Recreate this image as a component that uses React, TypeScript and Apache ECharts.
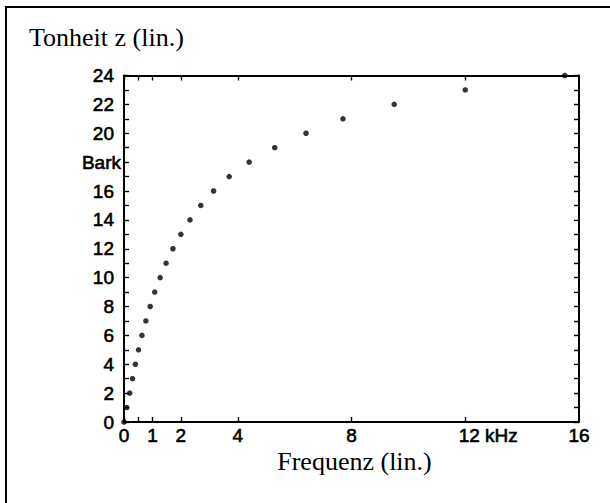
import React, { useEffect, useRef } from "react";
import * as echarts from "echarts";

// Bark scale: critical-band edges (frequency in kHz vs. Tonheit z in Bark)
const freqKHz = [0, 0.1, 0.2, 0.3, 0.4, 0.51, 0.63, 0.77, 0.92, 1.08, 1.27, 1.48, 1.72, 2.0, 2.32, 2.7, 3.15, 3.7, 4.4, 5.3, 6.4, 7.7, 9.5, 12.0, 15.5];
const barkZ = [0, 1, 2, 3, 4, 5, 6, 7, 8, 9, 10, 11, 12, 13, 14, 15, 16, 17, 18, 19, 20, 21, 22, 23, 24];

const xLabelValues = [0, 1, 2, 4, 8, 12, 16];
const xTickValues = [0, 0.5, 1, 2, 4, 8, 12];
const yLabelValues = [0, 2, 4, 6, 8, 10, 12, 14, 16, 18, 20, 22, 24];
const yTickValues = [0, 1, 2, 3, 4, 5, 6, 7, 8, 9, 10, 11, 12, 13, 14, 15, 16, 17, 18, 19, 20, 21, 22, 23, 24];

const titleText = "Tonheit z (lin.)";
const xNameText = "Frequenz (lin.)";

export default function App() {
  const ref = useRef<HTMLDivElement>(null);
  useEffect(() => {
    if (!ref.current) return;
    const chart = echarts.init(ref.current, null, { renderer: "svg" });
    const lineStyle = { color: "#000", width: 2 };
    const tickStyle = { color: "#000", width: 1.4 };
    const labelFont = "'Liberation Sans', Arial, sans-serif";
    const lbl = {
      fontFamily: labelFont,
      fontSize: 19,
      fontWeight: "normal",
      color: "#000",
      textBorderColor: "#000",
      textBorderWidth: 0.6,
    };
    chart.setOption({
      animation: false,
      backgroundColor: "#fff",
      grid: { left: 124, right: 31, top: 75.5, bottom: 81, containLabel: false },
      xAxis: [
        {
          type: "value",
          position: "bottom",
          min: 0,
          max: 16,
          axisLine: { show: true, onZero: false, lineStyle },
          axisTick: { show: true, inside: true, length: 5, lineStyle: tickStyle, customValues: xTickValues },
          splitLine: { show: false },
          axisLabel: {
            show: true,
            margin: 4,
            customValues: xLabelValues,
            formatter: (v: number) => (v === 12 ? "{k|12 kHz}" : "{n|" + v + "}"),
            rich: {
              n: { ...lbl },
              k: { ...lbl, padding: [0, 0, 0, 46] },
            },
          },
        },
        {
          type: "value",
          position: "top",
          min: 0,
          max: 16,
          axisLine: { show: true, onZero: false, lineStyle },
          axisTick: { show: true, inside: true, length: 5, lineStyle: tickStyle, customValues: xTickValues },
          splitLine: { show: false },
          axisLabel: { show: false },
        },
      ],
      yAxis: [
        {
          type: "value",
          position: "left",
          min: 0,
          max: 24,
          axisLine: { show: true, onZero: false, lineStyle },
          axisTick: { show: true, inside: true, length: 5, lineStyle: tickStyle, customValues: yTickValues },
          splitLine: { show: false },
          axisLabel: {
            show: true,
            margin: 3,
            customValues: yLabelValues,
            formatter: (v: number) => (v === 18 ? "{b|Bark}" : "{n|" + v + "}"),
            rich: {
              n: { ...lbl, padding: [0, 7, 0, 0] },
              b: { ...lbl },
            },
          },
        },
        {
          type: "value",
          position: "right",
          min: 0,
          max: 24,
          axisLine: { show: true, onZero: false, lineStyle },
          axisTick: { show: true, inside: true, length: 5, lineStyle: tickStyle, customValues: yTickValues },
          splitLine: { show: false },
          axisLabel: { show: false },
        },
      ],
      series: [
        {
          type: "scatter",
          xAxisIndex: 0,
          yAxisIndex: 0,
          symbol: "circle",
          symbolSize: 5.5,
          itemStyle: { color: "#000" },
          data: freqKHz.map((f, i) => [f, barkZ[i]]),
        },
      ],
      graphic: [
        {
          type: "rect",
          shape: { x: 6, y: 7, width: 700, height: 600 },
          style: { fill: "none", stroke: "#000", lineWidth: 2 },
          silent: true,
        },
        {
          type: "text",
          x: 29,
          y: 24,
          style: { text: titleText, fontFamily: "'Liberation Serif', 'Times New Roman', serif", fontSize: 26, fill: "#000" },
        },
        {
          type: "text",
          x: 354.5,
          y: 448,
          style: { text: xNameText, fontFamily: "'Liberation Serif', 'Times New Roman', serif", fontSize: 26, fill: "#000", align: "center" },
        },
      ],
    });
    return () => chart.dispose();
  }, []);
  return <div ref={ref} style={{ position: "fixed", left: 0, top: 0, width: 610, height: 503 }} />;
}
